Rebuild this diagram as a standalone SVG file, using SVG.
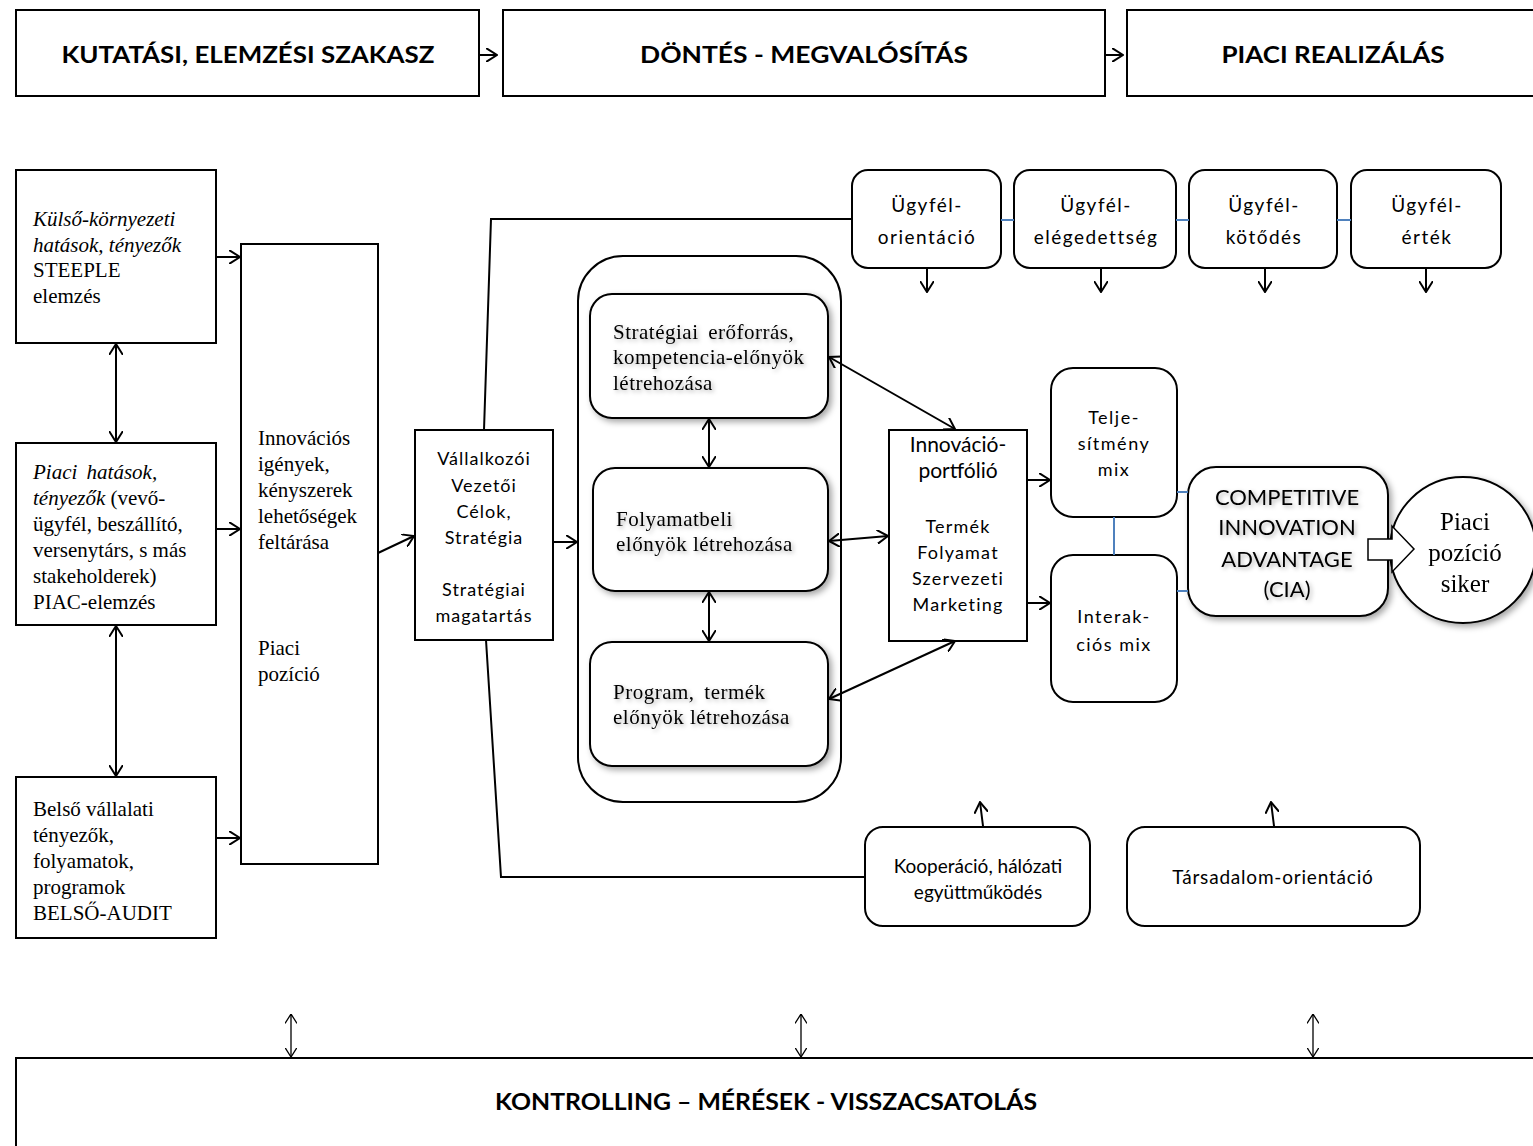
<svg xmlns="http://www.w3.org/2000/svg" width="1533" height="1146" viewBox="0 0 1533 1146">
<style>
.box{fill:#fff;stroke:#000;stroke-width:2}
.ln{fill:none;stroke:#000;stroke-width:2}
.thin{fill:none;stroke:#000;stroke-width:1.3}
.blue{fill:none;stroke:#4f81bd;stroke-width:2}
.hdr{font-family:Lato,"Open Sans",sans-serif;font-weight:bold;font-size:22px;text-anchor:middle}
.ser{font-family:"Liberation Serif","Times New Roman",serif;font-size:21px}
.sans{font-family:Lato,"Open Sans",sans-serif;font-size:18px;text-anchor:middle}
.it{font-style:italic}
</style>
<defs>
<marker id="ah" viewBox="0 0 12 14" refX="11" refY="7" markerWidth="12" markerHeight="14" markerUnits="userSpaceOnUse" orient="auto-start-reverse"><path d="M0,0 L11,7 L0,14" fill="none" stroke="#000" stroke-width="2"/></marker>
<marker id="ahs" viewBox="0 0 10 12" refX="9.5" refY="6" markerWidth="10" markerHeight="12" markerUnits="userSpaceOnUse" orient="auto-start-reverse"><path d="M0,0 L9.5,6 L0,12" fill="none" stroke="#000" stroke-width="1.3"/></marker>
<filter id="sh" x="-20%" y="-20%" width="140%" height="140%"><feDropShadow dx="3" dy="3" stdDeviation="3" flood-color="#000" flood-opacity="0.35"/></filter>
<filter id="tsh" x="-10%" y="-30%" width="120%" height="160%"><feDropShadow dx="2" dy="2" stdDeviation="2" flood-color="#000" flood-opacity="0.3"/></filter>
</defs>

<!-- header -->
<g id="h1"><rect class="box" x="16" y="10" width="463" height="86"/><text class="hdr" x="248" y="63" textLength="373" lengthAdjust="spacingAndGlyphs">KUTATÁSI, ELEMZÉSI SZAKASZ</text></g>
<g id="h2"><rect class="box" x="503" y="10" width="602" height="86"/><text class="hdr" x="804" y="63" textLength="328" lengthAdjust="spacingAndGlyphs">DÖNTÉS - MEGVALÓSÍTÁS</text></g>
<g id="h3"><rect class="box" x="1127" y="10" width="410" height="86"/><text class="hdr" x="1333" y="63" textLength="223" lengthAdjust="spacingAndGlyphs">PIACI REALIZÁLÁS</text></g>

<!-- left column -->
<g id="kulso"><rect class="box" x="16" y="170" width="200" height="173"/>
<text class="ser" x="33"><tspan class="it" x="33" y="226">Külső-környezeti</tspan><tspan class="it" x="33" y="252">hatások, tényezők</tspan><tspan x="33" y="277">STEEPLE</tspan><tspan x="33" y="303">elemzés</tspan></text></g>
<g id="piaci"><rect class="box" x="16" y="443" width="200" height="182"/>
<text class="ser" x="33"><tspan class="it" x="33" y="479" word-spacing="4">Piaci hatások,</tspan><tspan x="33" y="505"><tspan class="it">tényezők</tspan> (vevő-</tspan><tspan x="33" y="531">ügyfél, beszállító,</tspan><tspan x="33" y="557">versenytárs, s más</tspan><tspan x="33" y="583">stakeholderek)</tspan><tspan x="33" y="609">PIAC-elemzés</tspan></text></g>
<g id="belso"><rect class="box" x="16" y="777" width="200" height="161"/>
<text class="ser" x="33"><tspan x="33" y="816">Belső vállalati</tspan><tspan x="33" y="842">tényezők,</tspan><tspan x="33" y="868">folyamatok,</tspan><tspan x="33" y="894">programok</tspan><tspan x="33" y="920">BELSŐ-AUDIT</tspan></text></g>
<g id="innov"><rect class="box" x="241" y="244" width="137" height="620"/>
<text class="ser"><tspan x="258" y="445">Innovációs</tspan><tspan x="258" y="471">igények,</tspan><tspan x="258" y="497">kényszerek</tspan><tspan x="258" y="523">lehetőségek</tspan><tspan x="258" y="549">feltárása</tspan><tspan x="258" y="655">Piaci</tspan><tspan x="258" y="681">pozíció</tspan></text></g>

<g id="vallalk"><rect class="box" x="415" y="430" width="138" height="210"/>
<text class="sans" letter-spacing="1"><tspan x="484" y="465">Vállalkozói</tspan><tspan x="484" y="492">Vezetői</tspan><tspan x="484" y="518">Célok,</tspan><tspan x="484" y="544">Stratégia</tspan><tspan x="484" y="596">Stratégiai</tspan><tspan x="484" y="622">magatartás</tspan></text></g>

<!-- container -->
<g id="container"><rect class="box" x="578" y="256" width="263" height="546" rx="45"/></g>
<g id="eroforras" filter="url(#sh)"><rect class="box" x="590" y="294" width="238" height="124" rx="22"/>
<text class="ser" letter-spacing="0.5" filter="url(#tsh)"><tspan x="613" y="339" word-spacing="4">Stratégiai erőforrás,</tspan><tspan x="613" y="364">kompetencia-előnyök</tspan><tspan x="613" y="390">létrehozása</tspan></text></g>
<g id="folyamat" filter="url(#sh)"><rect class="box" x="593" y="468" width="235" height="123" rx="22"/>
<text class="ser" letter-spacing="0.5" filter="url(#tsh)"><tspan x="616" y="526">Folyamatbeli</tspan><tspan x="616" y="551">előnyök létrehozása</tspan></text></g>
<g id="program" filter="url(#sh)"><rect class="box" x="590" y="642" width="238" height="124" rx="22"/>
<text class="ser" letter-spacing="0.5" filter="url(#tsh)"><tspan x="613" y="699" word-spacing="4">Program, termék</tspan><tspan x="613" y="724">előnyök létrehozása</tspan></text></g>

<!-- portfolio -->
<g id="portfolio"><rect class="box" x="889" y="430" width="138" height="211"/>
<text class="sans" style="font-size:21px"><tspan x="958" y="452">Innováció-</tspan><tspan x="958" y="478">portfólió</tspan></text>
<text class="sans" letter-spacing="1.2"><tspan x="958" y="533">Termék</tspan><tspan x="958" y="559">Folyamat</tspan><tspan x="958" y="585">Szervezeti</tspan><tspan x="958" y="611">Marketing</tspan></text></g>

<g id="telj"><rect class="box" x="1051" y="368" width="126" height="149" rx="22"/>
<text class="sans" letter-spacing="1.5"><tspan x="1114" y="424">Telje-</tspan><tspan x="1114" y="450">sítmény</tspan><tspan x="1114" y="476">mix</tspan></text></g>
<g id="inter"><rect class="box" x="1051" y="555" width="126" height="147" rx="22"/>
<text class="sans" letter-spacing="1.5"><tspan x="1114" y="623">Interak-</tspan><tspan x="1114" y="651">ciós mix</tspan></text></g>

<g id="cia" filter="url(#sh)"><rect class="box" x="1188" y="467" width="200" height="149" rx="28"/>
<text class="sans" style="font-size:22px" filter="url(#tsh)"><tspan x="1287" y="505">COMPETITIVE</tspan><tspan x="1287" y="535">INNOVATION</tspan><tspan x="1287" y="567">ADVANTAGE</tspan><tspan x="1287" y="597">(CIA)</tspan></text></g>

<g id="siker" filter="url(#sh)"><circle class="box" cx="1463" cy="550" r="73"/>
<text class="ser" style="font-size:25px;text-anchor:middle"><tspan x="1465" y="530">Piaci</tspan><tspan x="1465" y="561">pozíció</tspan><tspan x="1465" y="592">siker</tspan></text></g>
<g id="blockarrow"><polygon points="1368,539 1392,539 1392,526 1414,549 1392,572 1392,560 1368,560" fill="#fff" stroke="#000" stroke-width="1.5"/></g>

<!-- customer boxes -->
<g id="u1"><rect class="box" x="852" y="170" width="149" height="98" rx="16"/><text class="sans" style="font-size:19px" letter-spacing="1.5"><tspan x="927" y="212">Ügyfél-</tspan><tspan x="927" y="244">orientáció</tspan></text></g>
<g id="u2"><rect class="box" x="1014" y="170" width="162" height="98" rx="16"/><text class="sans" style="font-size:19px" letter-spacing="1.5"><tspan x="1096" y="212">Ügyfél-</tspan><tspan x="1096" y="244">elégedettség</tspan></text></g>
<g id="u3"><rect class="box" x="1189" y="170" width="148" height="98" rx="16"/><text class="sans" style="font-size:19px" letter-spacing="1.5"><tspan x="1264" y="212">Ügyfél-</tspan><tspan x="1264" y="244">kötődés</tspan></text></g>
<g id="u4"><rect class="box" x="1351" y="170" width="150" height="98" rx="16"/><text class="sans" style="font-size:19px" letter-spacing="1.5"><tspan x="1427" y="212">Ügyfél-</tspan><tspan x="1427" y="244">érték</tspan></text></g>

<g id="koop"><rect class="box" x="865" y="827" width="225" height="99" rx="18"/><text class="sans" style="font-size:19px"><tspan x="978" y="873">Kooperáció, hálózati</tspan><tspan x="978" y="899">együttműködés</tspan></text></g>
<g id="tars"><rect class="box" x="1127" y="827" width="293" height="99" rx="18"/><text class="sans" style="font-size:19px" letter-spacing="0.8"><tspan x="1273" y="884">Társadalom-orientáció</tspan></text></g>

<g id="kontroll"><rect class="box" x="16" y="1058" width="1530" height="100" stroke-width="3"/><text class="hdr" x="766" y="1110" textLength="542" lengthAdjust="spacingAndGlyphs">KONTROLLING – MÉRÉSEK - VISSZACSATOLÁS</text></g>

<!-- connectors -->
<g id="connectors">
<line class="ln" x1="479" y1="55" x2="497" y2="55" marker-end="url(#ah)"/>
<line class="ln" x1="1105" y1="55" x2="1123" y2="55" marker-end="url(#ah)"/>
<line class="ln" x1="216" y1="257" x2="240" y2="257" marker-end="url(#ah)"/>
<line class="ln" x1="216" y1="529" x2="240" y2="529" marker-end="url(#ah)"/>
<line class="ln" x1="216" y1="838" x2="240" y2="838" marker-end="url(#ah)"/>
<line class="ln" x1="116" y1="344" x2="116" y2="442" marker-start="url(#ah)" marker-end="url(#ah)"/>
<line class="ln" x1="116" y1="626" x2="116" y2="776" marker-start="url(#ah)" marker-end="url(#ah)"/>
<line class="ln" x1="378" y1="553" x2="414" y2="536" marker-end="url(#ah)"/>
<line class="ln" x1="553" y1="542" x2="577" y2="542" marker-end="url(#ah)"/>
<polyline class="ln" points="484,430 491,219 852,219"/>
<polyline class="ln" points="486,640 501,877 865,877"/>
<line class="ln" x1="709" y1="419" x2="709" y2="467" marker-start="url(#ah)" marker-end="url(#ah)"/>
<line class="ln" x1="709" y1="592" x2="709" y2="641" marker-start="url(#ah)" marker-end="url(#ah)"/>
<line class="ln" x1="829" y1="357" x2="955" y2="429" marker-start="url(#ah)" marker-end="url(#ah)"/>
<line class="ln" x1="829" y1="541" x2="888" y2="536" marker-start="url(#ah)" marker-end="url(#ah)"/>
<line class="ln" x1="829" y1="699" x2="955" y2="641" marker-start="url(#ah)" marker-end="url(#ah)"/>
<line class="ln" x1="1027" y1="480" x2="1050" y2="480" marker-end="url(#ah)"/>
<line class="ln" x1="1027" y1="603" x2="1050" y2="603" marker-end="url(#ah)"/>
<line class="blue" x1="1001" y1="220" x2="1014" y2="220"/>
<line class="blue" x1="1176" y1="220" x2="1189" y2="220"/>
<line class="blue" x1="1337" y1="220" x2="1351" y2="220"/>
<line class="blue" x1="1114" y1="517" x2="1114" y2="555"/>
<line class="blue" x1="1177" y1="492" x2="1188" y2="492"/>
<line class="blue" x1="1177" y1="591" x2="1188" y2="591"/>
<line class="ln" x1="927" y1="268" x2="927" y2="292" marker-end="url(#ah)"/>
<line class="ln" x1="1101" y1="268" x2="1101" y2="292" marker-end="url(#ah)"/>
<line class="ln" x1="1265" y1="268" x2="1265" y2="292" marker-end="url(#ah)"/>
<line class="ln" x1="1426" y1="268" x2="1426" y2="292" marker-end="url(#ah)"/>
<line class="ln" x1="983" y1="826" x2="980" y2="802" marker-end="url(#ah)"/>
<line class="ln" x1="1274" y1="826" x2="1271" y2="802" marker-end="url(#ah)"/>
<line class="thin" x1="291" y1="1014" x2="291" y2="1057" marker-start="url(#ahs)" marker-end="url(#ahs)"/>
<line class="thin" x1="801" y1="1014" x2="801" y2="1057" marker-start="url(#ahs)" marker-end="url(#ahs)"/>
<line class="thin" x1="1313" y1="1014" x2="1313" y2="1057" marker-start="url(#ahs)" marker-end="url(#ahs)"/>
</g>
</svg>
